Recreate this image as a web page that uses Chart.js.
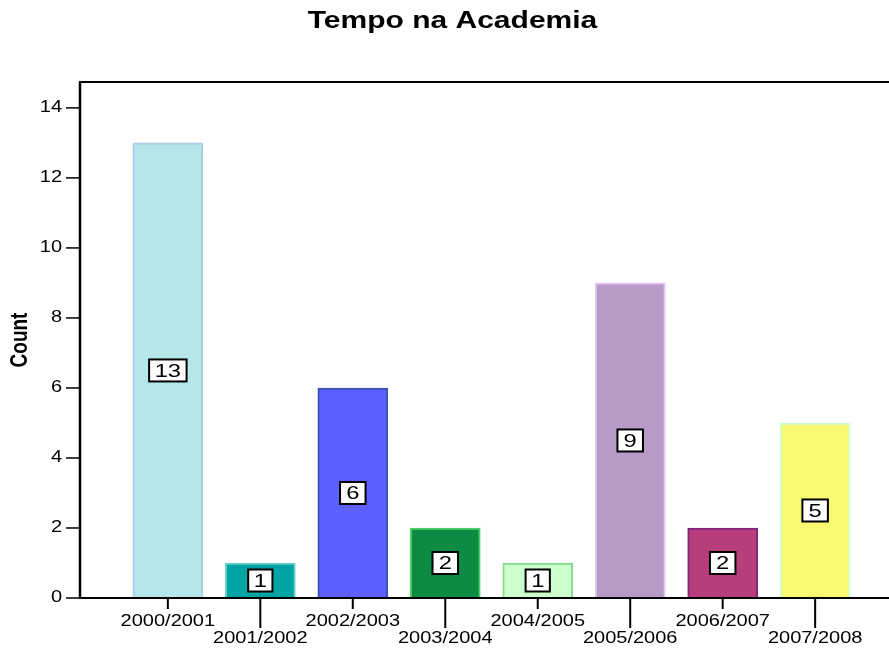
<!DOCTYPE html>
<html>
<head>
<meta charset="utf-8">
<title>Tempo na Academia</title>
<script src="https://cdn.jsdelivr.net/npm/chart.js@4.4.0/dist/chart.umd.min.js"></script>
<style>
  html, body { margin: 0; padding: 0; background: #fff; overflow: hidden; }
  #wrap { position: absolute; left: 0; top: 0; width: 905px; height: 649px; }
</style>
</head>
<body>
<div id="wrap"><canvas id="chart" width="905" height="649"></canvas></div>
<script>
// dados
const titulo = 'Tempo na Academia';
const tituloEixoY = 'Count';
const anos = ['2000/2001', '2001/2002', '2002/2003', '2003/2004', '2004/2005', '2005/2006', '2006/2007', '2007/2008'];
const contagens = [13, 1, 6, 2, 1, 9, 2, 5];
const ticksY = [0, 2, 4, 6, 8, 10, 12, 14];

// cores de preenchimento e contorno de cada barra
const coresBarra = ['#b5e6e8', '#00a5a3', '#5b60fe', '#0d8a43', '#ccffcc', '#b89ac9', '#b83e7b', '#f8f872'];
const coresBorda = ['#a9cde8', '#66cfc9', '#3e52b2', '#4fce6c', '#86dc86', '#e3c2f4', '#86257f', '#ccffcc'];

const FONTE = '"Liberation Sans", Arial, sans-serif';
const ESTICA = 1.25; // fonte alargada na horizontal

function texto(ctx, str, x, y, font, align) {
  ctx.save();
  ctx.font = font;
  ctx.fillStyle = '#000';
  ctx.textAlign = align || 'center';
  ctx.textBaseline = 'middle';
  ctx.translate(x, y);
  ctx.scale(ESTICA, 1);
  ctx.fillText(str, 0, 0);
  ctx.restore();
}

// eixos, ticks, títulos e caixas de valor
const eixosPlugin = {
  id: 'eixos',
  afterDatasetsDraw(chart) {
    const ctx = chart.ctx;
    const { left, right, top, bottom } = chart.chartArea;
    const sx = chart.scales.x;
    const sy = chart.scales.y;

    ctx.save();
    ctx.strokeStyle = '#000';
    ctx.lineCap = 'butt';

    // moldura
    ctx.lineWidth = 2;
    ctx.beginPath();
    ctx.moveTo(left, top);
    ctx.lineTo(right, top);
    ctx.lineTo(right, bottom);
    ctx.stroke();
    ctx.beginPath();
    ctx.moveTo(left, bottom);
    ctx.lineTo(right, bottom);
    ctx.stroke();
    ctx.lineWidth = 2.5;
    ctx.beginPath();
    ctx.moveTo(left, top - 1);
    ctx.lineTo(left, bottom + 1);
    ctx.stroke();

    // eixo Y
    ctx.lineWidth = 1.5;
    ticksY.forEach(v => {
      const y = sy.getPixelForValue(v);
      ctx.beginPath();
      ctx.moveTo(left - 14, y);
      ctx.lineTo(left, y);
      ctx.stroke();
      texto(ctx, String(v), left - 18, y, '16px ' + FONTE, 'right');
    });

    // eixo X com rótulos alternados
    ctx.lineWidth = 2;
    anos.forEach((a, i) => {
      const x = sx.getPixelForValue(i);
      const fim = i % 2 === 0 ? bottom + 11 : bottom + 30;
      ctx.beginPath();
      ctx.moveTo(x, bottom);
      ctx.lineTo(x, fim);
      ctx.stroke();
      texto(ctx, a, x, i % 2 === 0 ? bottom + 24 : bottom + 41, '16px ' + FONTE);
    });

    // rótulos de valor no meio de cada barra
    const meta = chart.getDatasetMeta(0);
    meta.data.forEach((bar, i) => {
      const str = String(contagens[i]);
      const cy = (bar.y + bar.base) / 2;
      ctx.font = '19px ' + FONTE;
      const m = ctx.measureText(str);
      const w = (m.actualBoundingBoxLeft + m.actualBoundingBoxRight) * ESTICA + 13;
      const h = 22;
      ctx.fillStyle = '#fff';
      ctx.fillRect(bar.x - w / 2, cy - h / 2, w, h);
      ctx.lineWidth = 2;
      ctx.strokeStyle = '#000';
      ctx.strokeRect(bar.x - w / 2, cy - h / 2, w, h);
      texto(ctx, str, bar.x, cy + 1, '19px ' + FONTE);
    });

    // títulos
    texto(ctx, titulo, chart.width / 2, 21, 'bold 24px ' + FONTE);
    ctx.save();
    ctx.font = 'bold 19px ' + FONTE;
    ctx.fillStyle = '#000';
    ctx.textAlign = 'center';
    ctx.textBaseline = 'middle';
    ctx.translate(20, (top + bottom) / 2);
    ctx.scale(ESTICA, 1);
    ctx.rotate(-Math.PI / 2);
    ctx.fillText(tituloEixoY, 0, 0);
    ctx.restore();

    ctx.restore();
  }
};

new Chart(document.getElementById('chart'), {
  type: 'bar',
  data: {
    datasets: [{
      data: contagens.map((v, i) => ({ x: i, y: v })),
      backgroundColor: coresBarra,
      borderColor: coresBorda,
      borderWidth: 2,
      barThickness: 70
    }]
  },
  options: {
    responsive: false,
    animation: false,
    layout: { padding: { left: 80, top: 82, right: 2, bottom: 51 } },
    plugins: {
      legend: { display: false },
      tooltip: { enabled: false },
      title: { display: false }
    },
    scales: {
      x: { type: 'linear', display: false, offset: false, min: -0.95, max: 7.95 },
      y: { display: false, min: 0, max: 14.74 }
    }
  },
  plugins: [eixosPlugin]
});
</script>
</body>
</html>
